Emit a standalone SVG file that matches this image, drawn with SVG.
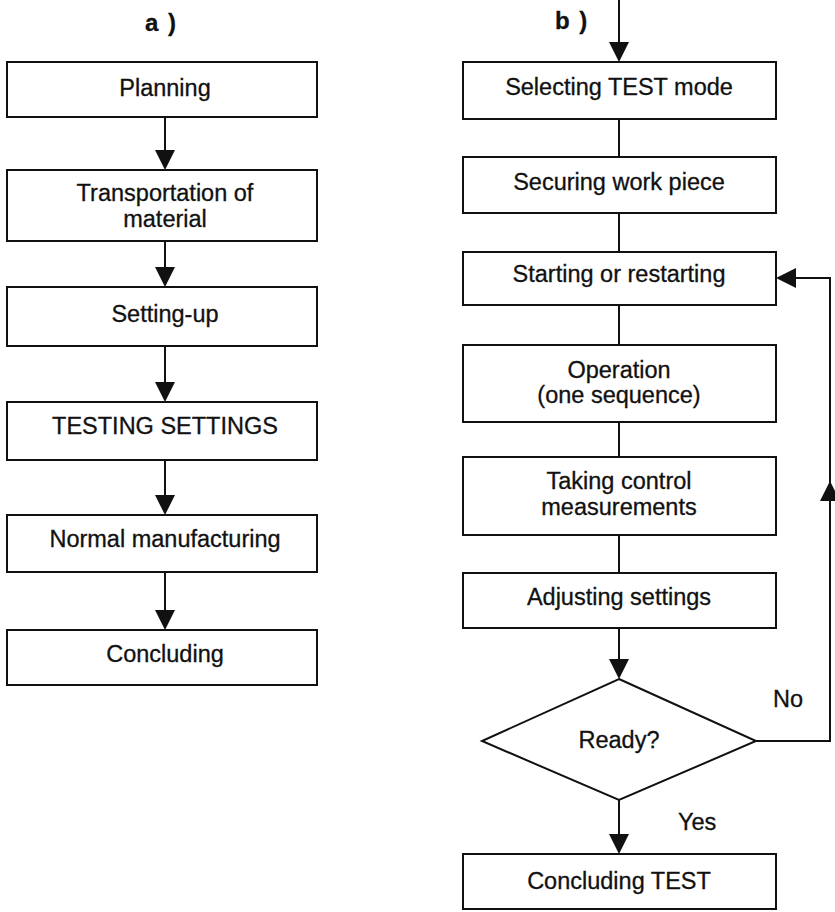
<svg xmlns="http://www.w3.org/2000/svg" width="835" height="912" viewBox="0 0 835 912">
  <style>
    .box { fill: #fff; stroke: #111; stroke-width: 2; }
    .line { fill: none; stroke: #111; stroke-width: 2; }
    .head { fill: #111; stroke: none; }
    text { font-family: "Liberation Sans", Arial, sans-serif; font-size: 23.5px; fill: #111; stroke: #111; stroke-width: 0.3; text-anchor: middle; }
    .title { font-weight: bold; font-size: 24px; text-anchor: start; word-spacing: 3px; }
    .lbl { text-anchor: start; }
  </style>
  <defs>
    <path id="down" class="head" d="M-10,-20 L10,-20 L0,0 Z"/>
  </defs>
  <rect width="835" height="912" fill="#fff"/>

  <text class="title" x="145" y="31">a )</text>
  <text class="title" x="555" y="29">b )</text>

  <!-- connectors -->
  <g id="connectors">
    <!-- column a -->
    <line class="line" x1="165" y1="117" x2="165" y2="152"/>
    <use href="#down" x="165" y="170"/>
    <line class="line" x1="165" y1="241" x2="165" y2="269"/>
    <use href="#down" x="165" y="287"/>
    <line class="line" x1="165" y1="346" x2="165" y2="384"/>
    <use href="#down" x="165" y="402"/>
    <line class="line" x1="165" y1="460" x2="165" y2="497"/>
    <use href="#down" x="165" y="515"/>
    <line class="line" x1="165" y1="572" x2="165" y2="612"/>
    <use href="#down" x="165" y="630"/>
    <!-- column b -->
    <line class="line" x1="619" y1="0" x2="619" y2="44"/>
    <use href="#down" x="619" y="62"/>
    <line class="line" x1="619" y1="119" x2="619" y2="157"/>
    <line class="line" x1="619" y1="213" x2="619" y2="252"/>
    <line class="line" x1="619" y1="305" x2="619" y2="345"/>
    <line class="line" x1="619" y1="422" x2="619" y2="457"/>
    <line class="line" x1="619" y1="535" x2="619" y2="573"/>
    <line class="line" x1="619" y1="628" x2="619" y2="661"/>
    <use href="#down" x="619" y="679"/>
    <line class="line" x1="619" y1="800" x2="619" y2="836"/>
    <use href="#down" x="619" y="854"/>
    <!-- "No" loop back to Starting or restarting -->
    <polyline class="line" points="756,741 830,741 830,278 794,278"/>
    <path class="head" d="M776,278 L796,268 L796,288 Z"/>
    <path class="head" d="M830,481 L820,501 L840,501 Z"/>
  </g>

  <!-- column a nodes -->
  <g id="planning">
    <rect class="box" x="7" y="62" width="310" height="55"/>
    <text x="165" y="96">Planning</text>
  </g>
  <g id="transportation">
    <rect class="box" x="7" y="170" width="310" height="71"/>
    <text x="165" y="201">Transportation of</text>
    <text x="165" y="227">material</text>
  </g>
  <g id="setting-up">
    <rect class="box" x="7" y="287" width="310" height="59"/>
    <text x="165" y="322">Setting-up</text>
  </g>
  <g id="testing-settings">
    <rect class="box" x="7" y="402" width="310" height="58"/>
    <text x="165" y="434">TESTING SETTINGS</text>
  </g>
  <g id="normal-manufacturing">
    <rect class="box" x="7" y="515" width="310" height="57"/>
    <text x="165" y="547">Normal manufacturing</text>
  </g>
  <g id="concluding">
    <rect class="box" x="7" y="630" width="310" height="55"/>
    <text x="165" y="662">Concluding</text>
  </g>

  <!-- column b nodes -->
  <g id="selecting-test-mode">
    <rect class="box" x="463" y="62" width="313" height="57"/>
    <text x="619" y="95">Selecting TEST mode</text>
  </g>
  <g id="securing-work-piece">
    <rect class="box" x="463" y="157" width="313" height="56"/>
    <text x="619" y="190">Securing work piece</text>
  </g>
  <g id="starting">
    <rect class="box" x="463" y="252" width="313" height="53"/>
    <text x="619" y="282">Starting or restarting</text>
  </g>
  <g id="operation">
    <rect class="box" x="463" y="345" width="313" height="77"/>
    <text x="619" y="378">Operation</text>
    <text x="619" y="403">(one sequence)</text>
  </g>
  <g id="control-measurements">
    <rect class="box" x="463" y="457" width="313" height="78"/>
    <text x="619" y="489">Taking control</text>
    <text x="619" y="515">measurements</text>
  </g>
  <g id="adjusting-settings">
    <rect class="box" x="463" y="573" width="313" height="55"/>
    <text x="619" y="605">Adjusting settings</text>
  </g>
  <g id="ready">
    <polygon class="box" points="619,679 756,741 619,800 482,741"/>
    <text x="619" y="748">Ready?</text>
  </g>
  <g id="concluding-test">
    <rect class="box" x="463" y="854" width="313" height="55"/>
    <text x="619" y="889">Concluding TEST</text>
  </g>

  <text class="lbl" x="773" y="707">No</text>
  <text class="lbl" x="678" y="830">Yes</text>
</svg>
